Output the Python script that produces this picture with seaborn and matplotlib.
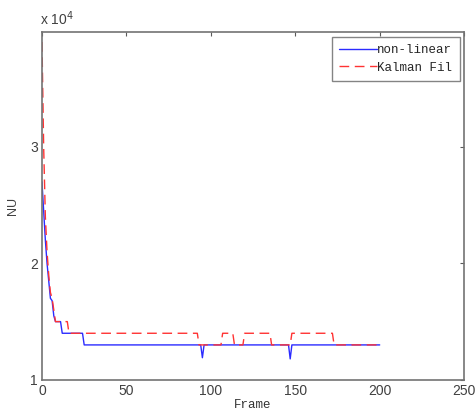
import numpy as np
import pandas as pd
import seaborn as sns
import matplotlib.pyplot as plt

# breakpoints (frame, NU)
nl_frame = [0, 1, 2, 3, 4, 5, 6, 7, 8, 11, 12, 24, 25, 94, 95, 96, 146, 147, 148, 200]
nl_value = [27000, 24500, 22000, 20000, 18500, 17000, 16800, 15500, 15000, 15000, 14000, 14000,
            13000, 13000, 11900, 13000, 13000, 11800, 13000, 13000]

kf_frame = [0, 1, 2, 3, 4, 5, 6, 7, 8, 15, 16, 92, 93, 106, 107, 113, 114, 119, 120, 135, 136,
            147, 148, 172, 173, 201]
kf_value = [39000, 30000, 24000, 21000, 19000, 17500, 17000, 16000, 15000, 15000, 14000, 14000,
            13000, 13000, 14000, 14000, 13000, 13000, 14000, 14000, 13000, 13000, 14000, 14000,
            13000, 13000]

labels = ["non-linear", "Kalman Fil"]

sns.set_style("white")
plt.rcParams["font.family"] = ["Liberation Sans", "DejaVu Sans"]
fig = plt.figure(figsize=(4.77, 4.12), dpi=100)
ax = fig.add_axes([0.088, 0.078, 0.885, 0.844])

nl = pd.DataFrame({"Frame": nl_frame, "NU": nl_value})
kf = pd.DataFrame({"Frame": kf_frame, "NU": kf_value})
sns.lineplot(data=nl, x="Frame", y="NU", ax=ax, color="#2b2bff", lw=1.0,
             sort=False, estimator=None, label=labels[0])
sns.lineplot(data=kf, x="Frame", y="NU", ax=ax, color="#ff3333", lw=1.0,
             sort=False, estimator=None, label=labels[1], dashes=False)
ax.lines[1].set_dashes([7, 4])

ax.set_xlim(0, 250)
ax.set_ylim(10000, 39850)
ax.set_xticks([0, 50, 100, 150, 200, 250])
ax.set_yticks([10000, 20000, 30000])
ax.set_yticklabels(["1", "2", "3"])
ax.tick_params(direction="in", length=3, top=True, right=True, labelsize=10,
               colors="0.35", labelcolor="0.25", pad=3)
for s in ax.spines.values():
    s.set_color("0.45")
    s.set_linewidth(1.2)

ax.text(-0.005, 1.012, "x 10$^{4}$", transform=ax.transAxes, fontsize=10, color="0.25",
        ha="left", va="bottom")
ax.set_xlabel("Frame", family="Liberation Mono", fontsize=9, color="0.2", labelpad=1)
ax.set_ylabel("NU", fontsize=9, color="0.25", labelpad=8)

leg = ax.legend(loc="upper right", prop={"family": "Liberation Mono", "size": 9},
                frameon=True, fancybox=False, borderaxespad=0.35, handlelength=3.0,
                handletextpad=0.05, borderpad=0.6, labelspacing=0.45)
leg.get_frame().set_edgecolor("0.4")
leg.get_frame().set_linewidth(1.0)

fig.savefig("out.png", dpi=100)
